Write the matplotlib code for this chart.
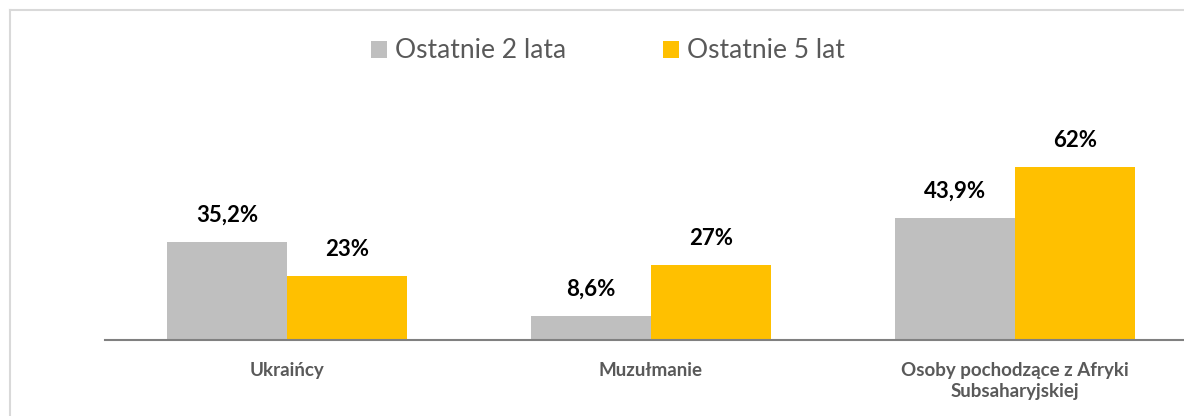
import numpy as np
import matplotlib.pyplot as plt
from matplotlib.lines import Line2D

categories = ['Ukraińcy', 'Muzułmanie', 'Osoby pochodzące z Afryki\nSubsaharyjskiej']
series_names = ['Ostatnie 2 lata', 'Ostatnie 5 lat']
last_2_years = [35.2, 8.6, 43.9]
last_5_years = [23, 27, 62]
labels_2 = ['35,2%', '8,6%', '43,9%']
labels_5 = ['23%', '27%', '62%']

colors = ['#BFBFBF', '#FFC000']
plt.rcParams['font.family'] = ['Lato', 'DejaVu Sans']

W, H = 1184, 416
fig = plt.figure(figsize=(W / 100, H / 100), dpi=100)

# outer chart border (only top and left edges are inside the crop)
bx, by = 9.5 / W, 1 - 9.5 / H
fig.add_artist(Line2D([bx, 1.0], [by, by], transform=fig.transFigure, color='#D9D9D9', lw=1.5))
fig.add_artist(Line2D([bx, bx], [0.0, by], transform=fig.transFigure, color='#D9D9D9', lw=1.5))

# axes: left 105px, right edge runs past the picture
ax_left, ax_right = 105, 105 + 3 * 364
ax_bottom, ax_top = 340, 340 - 70 * 2.785
ax = fig.add_axes([ax_left / W, 1 - ax_bottom / H, (ax_right - ax_left) / W, (ax_bottom - ax_top) / H])

x = np.arange(len(categories))
w = 0.33
b1 = ax.bar(x - w / 2, last_2_years, w, color=colors[0], label=series_names[0])
b2 = ax.bar(x + w / 2, last_5_years, w, color=colors[1], label=series_names[1])

for bars, labs in [(b1, labels_2), (b2, labels_5)]:
    for bar, lab in zip(bars, labs):
        ax.annotate(lab, (bar.get_x() + bar.get_width() / 2, bar.get_height()),
                    xytext=(0, 19), textcoords='offset points', ha='center', va='center',
                    fontsize=16, fontweight='bold', color='black')

ax.set_xlim(-0.5, len(categories) - 0.5)
ax.set_ylim(0, 70)
ax.set_yticks([])
ax.set_xticks(x)
ax.set_xticklabels(categories, fontsize=13.5, fontweight='bold', color='#595959', linespacing=1.25)
ax.tick_params(axis='x', length=0, pad=16)
for s in ['top', 'right', 'left']:
    ax.spines[s].set_visible(False)
ax.spines['bottom'].set_color('#808080')
ax.spines['bottom'].set_linewidth(1.5)

fig.legend(handles=[b1, b2], loc='center', bbox_to_anchor=(608 / W, 1 - 51 / H), ncol=2,
           frameon=False, fontsize=19, labelcolor='#595959', handlelength=0.6, handleheight=0.6,
           handletextpad=0.3, columnspacing=3.7)

fig.savefig('out.png', dpi=100)
